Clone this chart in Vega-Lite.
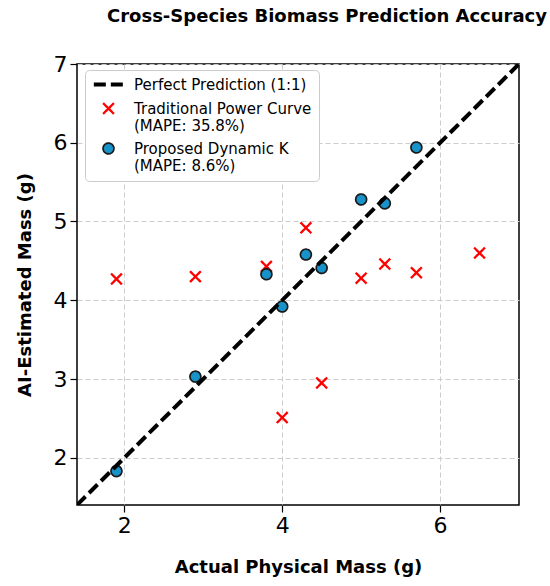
{
  "$schema": "https://vega.github.io/schema/vega-lite/v6.json",
  "width": 442,
  "height": 441,
  "autosize": "none",
  "padding": {"left": 77, "top": 64, "right": 31, "bottom": 81},
  "background": "white",
  "title": {
    "text": "Cross-Species Biomass Prediction Accuracy",
    "font": "DejaVu Sans",
    "fontSize": 18,
    "fontWeight": "bold",
    "offset": 27,
    "dx": 29,
    "color": "black"
  },
  "datasets": {
    "points": [
      {"actual": 1.9, "estimated": 4.27, "series": "Traditional Power Curve|(MAPE: 35.8%)"},
      {"actual": 2.9, "estimated": 4.30, "series": "Traditional Power Curve|(MAPE: 35.8%)"},
      {"actual": 3.8, "estimated": 4.43, "series": "Traditional Power Curve|(MAPE: 35.8%)"},
      {"actual": 4.0, "estimated": 2.51, "series": "Traditional Power Curve|(MAPE: 35.8%)"},
      {"actual": 4.3, "estimated": 4.92, "series": "Traditional Power Curve|(MAPE: 35.8%)"},
      {"actual": 4.5, "estimated": 2.95, "series": "Traditional Power Curve|(MAPE: 35.8%)"},
      {"actual": 5.0, "estimated": 4.28, "series": "Traditional Power Curve|(MAPE: 35.8%)"},
      {"actual": 5.3, "estimated": 4.46, "series": "Traditional Power Curve|(MAPE: 35.8%)"},
      {"actual": 5.7, "estimated": 4.35, "series": "Traditional Power Curve|(MAPE: 35.8%)"},
      {"actual": 6.5, "estimated": 4.60, "series": "Traditional Power Curve|(MAPE: 35.8%)"},
      {"actual": 1.9, "estimated": 1.83, "series": "Proposed Dynamic K|(MAPE: 8.6%)"},
      {"actual": 2.9, "estimated": 3.03, "series": "Proposed Dynamic K|(MAPE: 8.6%)"},
      {"actual": 3.8, "estimated": 4.33, "series": "Proposed Dynamic K|(MAPE: 8.6%)"},
      {"actual": 4.0, "estimated": 3.92, "series": "Proposed Dynamic K|(MAPE: 8.6%)"},
      {"actual": 4.3, "estimated": 4.58, "series": "Proposed Dynamic K|(MAPE: 8.6%)"},
      {"actual": 4.5, "estimated": 4.41, "series": "Proposed Dynamic K|(MAPE: 8.6%)"},
      {"actual": 5.0, "estimated": 5.28, "series": "Proposed Dynamic K|(MAPE: 8.6%)"},
      {"actual": 5.3, "estimated": 5.23, "series": "Proposed Dynamic K|(MAPE: 8.6%)"},
      {"actual": 5.7, "estimated": 5.94, "series": "Proposed Dynamic K|(MAPE: 8.6%)"}
    ],
    "identity": [
      {"actual": 1.4, "estimated": 1.4, "series": "Perfect Prediction (1:1)"},
      {"actual": 7.0, "estimated": 7.0, "series": "Perfect Prediction (1:1)"}
    ]
  },
  "config": {
    "font": "DejaVu Sans",
    "view": {"stroke": "black", "strokeWidth": 1.5},
    "axis": {
      "domain": false,
      "grid": true,
      "gridColor": "#cccccc",
      "gridDash": [5, 3],
      "gridWidth": 1,
      "tickColor": "black",
      "tickSize": 7,
      "tickWidth": 1.2,
      "labelFont": "DejaVu Sans",
      "labelFontSize": 22,
      "labelColor": "black",
      "labelPadding": 3,
      "titleFont": "DejaVu Sans",
      "titleFontSize": 18,
      "titleFontWeight": "bold",
      "titleColor": "black"
    },
    "legend": {
      "labelFont": "DejaVu Sans",
      "labelFontSize": 15,
      "labelLineHeight": 14,
      "labelColor": "black",
      "labelLimit": 300
    }
  },
  "layer": [
    {
      "data": {"name": "points"},
      "mark": {"type": "point", "opacity": 1, "size": 118, "clip": true},
      "encoding": {
        "x": {
          "field": "actual",
          "type": "quantitative",
          "scale": {"domain": [1.4, 7], "nice": false, "zero": false},
          "axis": {"title": "Actual Physical Mass (g)", "values": [2, 4, 6], "format": "d", "titlePadding": 22}
        },
        "y": {
          "field": "estimated",
          "type": "quantitative",
          "scale": {"domain": [1.4, 7], "nice": false, "zero": false},
          "axis": {"title": "AI-Estimated Mass (g)", "values": [2, 3, 4, 5, 6, 7], "format": "d", "titlePadding": 19}
        },
        "shape": {
          "field": "series",
          "type": "nominal",
          "scale": {
            "domain": ["Perfect Prediction (1:1)", "Traditional Power Curve|(MAPE: 35.8%)", "Proposed Dynamic K|(MAPE: 8.6%)"],
            "range": ["M-2.7,0L2.7,0", "M-1,-1L1,1M-1,1L1,-1", "circle"]
          },
          "legend": {
            "title": null,
            "orient": "none",
            "legendX": 8,
            "legendY": 6,
            "padding": 7,
            "rowPadding": 5,
            "symbolSize": 118,
            "symbolOffset": 9,
            "labelOffset": 18,
            "fillColor": "white",
            "strokeColor": "#cccccc",
            "cornerRadius": 4,
            "labelExpr": "split(datum.label, '|')"
          }
        },
        "strokeWidth": {
          "field": "series",
          "type": "ordinal",
          "scale": {
            "type": "ordinal",
            "domain": ["Perfect Prediction (1:1)", "Traditional Power Curve|(MAPE: 35.8%)", "Proposed Dynamic K|(MAPE: 8.6%)"],
            "range": [4, 2.3, 1.7]
          }
        },
        "strokeDash": {
          "field": "series",
          "type": "nominal",
          "scale": {
            "domain": ["Perfect Prediction (1:1)", "Traditional Power Curve|(MAPE: 35.8%)", "Proposed Dynamic K|(MAPE: 8.6%)"],
            "range": [[12, 5], [1, 0], [1, 0]]
          }
        },
        "stroke": {
          "field": "series",
          "type": "nominal",
          "scale": {
            "domain": ["Perfect Prediction (1:1)", "Traditional Power Curve|(MAPE: 35.8%)", "Proposed Dynamic K|(MAPE: 8.6%)"],
            "range": ["black", "#ff0000", "#1a1a1a"]
          }
        },
        "fill": {
          "field": "series",
          "type": "nominal",
          "scale": {
            "domain": ["Perfect Prediction (1:1)", "Traditional Power Curve|(MAPE: 35.8%)", "Proposed Dynamic K|(MAPE: 8.6%)"],
            "range": ["transparent", "transparent", "#1793c9"]
          }
        }
      }
    },
    {
      "data": {"name": "identity"},
      "mark": {"type": "line", "strokeWidth": 4, "clip": true},
      "encoding": {
        "x": {"field": "actual", "type": "quantitative"},
        "y": {"field": "estimated", "type": "quantitative"},
        "stroke": {"field": "series", "type": "nominal"},
        "strokeDash": {"field": "series", "type": "nominal"}
      }
    }
  ]
}
